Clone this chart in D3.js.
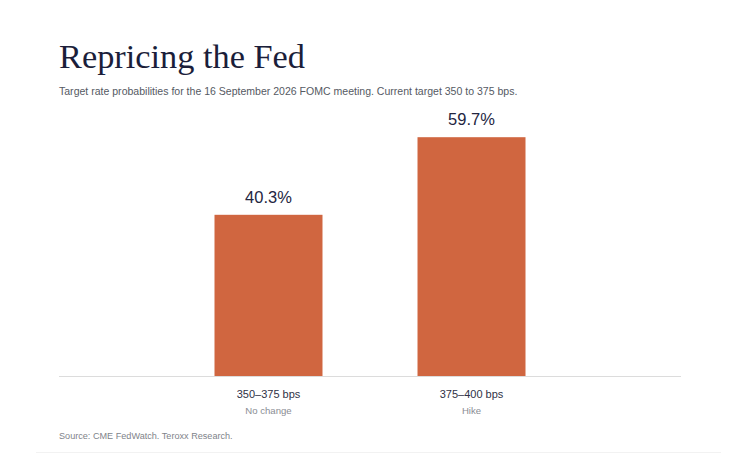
<!DOCTYPE html>
<html><head><meta charset="utf-8">
<script src="https://cdn.jsdelivr.net/npm/d3@7"></script>
<style>body{margin:0;background:#fff}svg{display:block}</style>
</head><body><svg id="c" width="754" height="458"></svg>
<script>
const categories = ["350–375 bps", "375–400 bps"];
const subLabels = ["No change", "Hike"];
const values = [40.3, 59.7];
const valueLabels = ["40.3%", "59.7%"];
const titleText = "Repricing the Fed";
const subtitleText = "Target rate probabilities for the 16 September 2026 FOMC meeting. Current target 350 to 375 bps.";
const sourceText = "Source: CME FedWatch. Teroxx Research.";

const svg = d3.select("#c");
const plotLeft = 59, plotRight = 681, plotBase = 376, plotTop = 136;
const x = d3.scaleBand().domain(categories).range([plotLeft, plotRight]).paddingInner(0.468).paddingOuter(0.766);
const y = d3.scaleLinear().domain([0, 60]).range([plotBase, plotTop]);
const sans = "'Liberation Sans', Arial, Helvetica, sans-serif";

function fit(t, w){ const n=t.node(); const l=n.getComputedTextLength(); const fs=parseFloat(t.attr("font-size")); t.attr("font-size", fs*w/l); }

const title = svg.append("text").attr("x", plotLeft).attr("y", 68).attr("font-family","'Liberation Serif', 'DejaVu Serif', serif")
  .attr("font-size", 30).attr("fill","#1b1e3a").text(titleText);
fit(title, 246);
const sub = svg.append("text").attr("x", plotLeft).attr("y", 95).attr("font-family", sans)
  .attr("font-size", 11).attr("fill","#555a63").text(subtitleText);
fit(sub, 459);

svg.append("g").selectAll("rect").data(values).join("rect")
  .attr("x", (d,i)=>x(categories[i])).attr("width", x.bandwidth())
  .attr("y", d=>y(d)).attr("height", d=>plotBase-y(d)).attr("fill","#d06640");

svg.append("line").attr("x1", plotLeft).attr("x2", plotRight).attr("y1", plotBase+0.5).attr("y2", plotBase+0.5)
  .attr("stroke","#dcdcdc").attr("stroke-width",1);

svg.append("g").selectAll("text").data(values).join("text")
  .attr("x",(d,i)=>x(categories[i])+x.bandwidth()/2).attr("y", d=>y(d)-12)
  .attr("text-anchor","middle").attr("font-family", sans)
  .attr("font-size",16.5).attr("fill","#23263f").text((d,i)=>valueLabels[i]);

svg.append("g").selectAll("text").data(categories).join("text")
  .attr("x", d=>x(d)+x.bandwidth()/2).attr("y", 398).attr("text-anchor","middle")
  .attr("font-family", sans).attr("font-size",11).attr("fill","#2f3246").text(d=>d);
svg.append("g").selectAll("text").data(subLabels).join("text")
  .attr("x", (d,i)=>x(categories[i])+x.bandwidth()/2).attr("y", 414).attr("text-anchor","middle")
  .attr("font-family", sans).attr("font-size",9.6).attr("fill","#8a8d94").text(d=>d);

const src = svg.append("text").attr("x", plotLeft).attr("y", 439).attr("font-family", sans)
  .attr("font-size",10).attr("fill","#80838a").text(sourceText);
fit(src, 174);

svg.append("line").attr("x1",36).attr("x2",721).attr("y1",452.5).attr("y2",452.5).attr("stroke","#f2f2f2");
</script></body></html>
